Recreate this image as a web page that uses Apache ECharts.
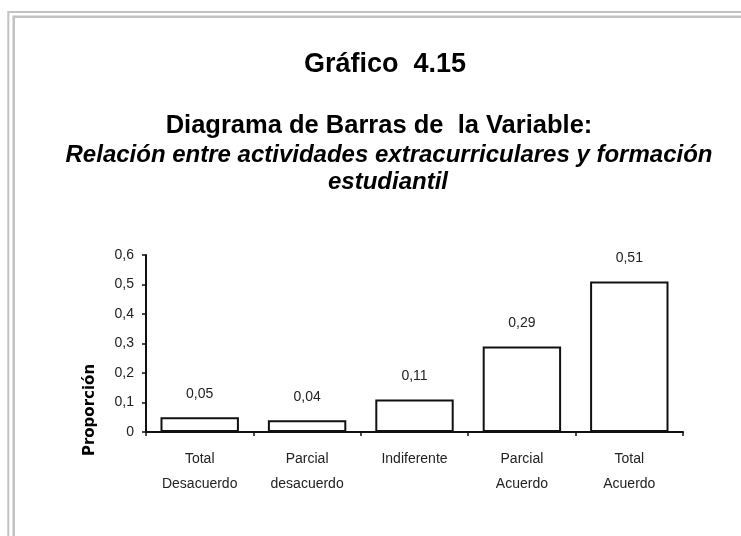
<!DOCTYPE html>
<html>
<head>
<meta charset="utf-8">
<script src="https://cdn.jsdelivr.net/npm/echarts@6/dist/echarts.min.js"></script>
<style>
	html,body{
		margin:0;
		padding:0;
		background:#fff;
	}
	#chart_box{
		width:741px;
		height:536px;
	}
</style>
</head>
<body>
<div id="chart_box"></div>
<script>
	//类目
	var category_list = ['Total\nDesacuerdo','Parcial\ndesacuerdo','Indiferente','Parcial\nAcuerdo','Total\nAcuerdo'];
	//比例
	var value_list = [0.05,0.04,0.11,0.29,0.51];
	//y轴刻度
	var y_min = 0;
	var y_max = 0.6;
	var y_step = 0.1;
	//标题
	var title_main = 'Gráfico  4.15';
	var title_sub = 'Diagrama de Barras de  la Variable:';
	var title_var = ['Relación entre actividades extracurriculares y formación','estudiantil'];
	var axis_name = 'Proporción';

	var font = 'Arial, "Liberation Sans", sans-serif';

	//小数点用逗号
	function comma(v,n){
		return v.toFixed(n).replace('.',',');
	}

	var chart_box = document.getElementById('chart_box');
	var myChart = echarts.init(chart_box,null,{renderer:'canvas'});

	var option = {
		backgroundColor:'#fff',
		animation:false,
		title:[{
			text:title_main,
			left:380,
			top:46,
			textAlign:'center',
			textStyle:{fontFamily:font,fontSize:27,fontWeight:'bold',color:'#000'}
		},{
			text:title_sub,
			left:374,
			top:108,
			textAlign:'center',
			textStyle:{fontFamily:font,fontSize:25.5,fontWeight:'bold',color:'#000'}
		},{
			text:title_var[0],
			left:384,
			top:138,
			textAlign:'center',
			textStyle:{fontFamily:font,fontSize:24,fontWeight:'bold',fontStyle:'italic',color:'#000'}
		},{
			text:title_var[1],
			left:383,
			top:165,
			textAlign:'center',
			textStyle:{fontFamily:font,fontSize:24,fontWeight:'bold',fontStyle:'italic',color:'#000'}
		}],
		grid:{
			left:146,
			right:58,
			top:255,
			bottom:104,
			containLabel:false
		},
		xAxis:{
			type:'category',
			data:category_list,
			axisLine:{lineStyle:{color:'#111',width:2}},
			axisTick:{show:true,length:4,lineStyle:{color:'#111',width:1.5}},
			axisLabel:{
				fontFamily:font,
				fontSize:14,
				color:'#222',
				lineHeight:25,
				margin:15
			}
		},
		yAxis:{
			type:'value',
			min:y_min,
			max:y_max,
			interval:y_step,
			splitLine:{show:false},
			axisLine:{show:true,lineStyle:{color:'#111',width:2}},
			axisTick:{show:true,length:4,lineStyle:{color:'#111',width:1.5}},
			axisLabel:{
				fontFamily:font,
				fontSize:14,
				color:'#222',
				margin:12,
				formatter:function(v){
					return v == 0 ? '0' : comma(v,1);
				}
			}
		},
		series:[{
			type:'bar',
			data:value_list,
			barCategoryGap:'27%',
			itemStyle:{
				color:'#fff',
				borderColor:'#111',
				borderWidth:2
			},
			label:{
				show:true,
				position:'top',
				distance:16,
				fontFamily:font,
				fontSize:14,
				color:'#222',
				formatter:function(params){
					return comma(params.value,2);
				}
			}
		}],
		graphic:[{
			//外框
			type:'rect',
			silent:true,
			shape:{x:8.3,y:12,width:900,height:700},
			style:{fill:'none',stroke:'#c2c2c2',lineWidth:2}
		},{
			type:'rect',
			silent:true,
			shape:{x:13.7,y:16.7,width:900,height:700},
			style:{fill:'none',stroke:'#c2c2c2',lineWidth:2.5}
		},{
			//y轴名称
			type:'text',
			x:90,
			y:410,
			rotation:Math.PI/2,
			style:{
				text:axis_name,
				fontFamily:'"DejaVu Sans", sans-serif',
				fontSize:15,
				fontWeight:'bold',
				fill:'#000',
				align:'center',
				verticalAlign:'middle'
			}
		}]
	};
	myChart.setOption(option);
</script>
</body>
</html>
